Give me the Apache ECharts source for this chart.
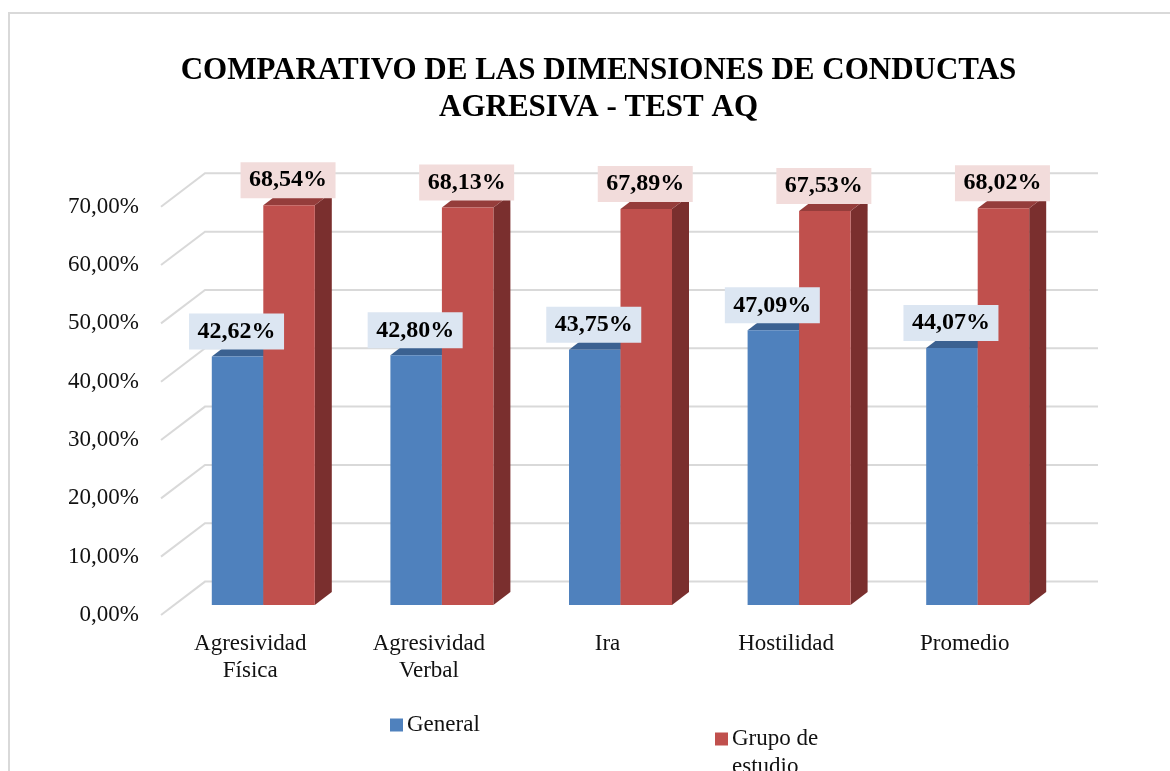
<!DOCTYPE html>
<html>
<head>
<meta charset="utf-8">
<style>html,body{margin:0;padding:0;background:#fff}#c{width:1170px;height:771px}</style>
<script src="https://cdn.jsdelivr.net/npm/echarts@6/dist/echarts.min.js"></script>
</head>
<body>
<div id="c"></div>
<script>
const titleText = 'COMPARATIVO DE LAS DIMENSIONES DE CONDUCTAS\nAGRESIVA - TEST AQ';
const categories = ['Agresividad Física', 'Agresividad Verbal', 'Ira', 'Hostilidad', 'Promedio'];
const general = [42.62, 42.80, 43.75, 47.09, 44.07];
const grupoEstudio = [68.54, 68.13, 67.89, 67.53, 68.02];
const yTicks = [0, 10, 20, 30, 40, 50, 60, 70];

const FONT = '"Liberation Serif","Times New Roman",serif';
const WALL = [44, -33.4];      // front of the floor to the back wall
const FLOOR = [13, -10];       // front of the floor to the front of the bars
const DEPTH = [17, -13];       // bar depth
const BAR_W = 51.5;
const fmt = v => v.toFixed(2).replace('.', ',') + '%';

function gridRender(params, api) {
  const cs = params.coordSys;
  const y = api.coord([0, api.value(0)])[1];
  const xb = cs.x + WALL[0], yb = y + WALL[1];
  return {
    type: 'polyline',
    shape: { points: [[cs.x, y], [xb, yb], [cs.x + cs.width + WALL[0], yb]] },
    style: { stroke: '#D9D9D9', lineWidth: 2, fill: null }
  };
}

function barRender(side, front, top, sideCol, labelBg) {
  return function (params, api) {
    const idx = api.value(0), v = api.value(1);
    const c = api.coord([idx, v]);
    const c0 = api.coord([idx, 0]);
    const cx = c[0] + FLOOR[0];
    const x0 = side < 0 ? cx - BAR_W : cx, x1 = x0 + BAR_W;
    const yt = c[1] + FLOOR[1], yb = c0[1] + FLOOR[1];
    const dx = DEPTH[0], dy = DEPTH[1];
    return {
      type: 'group',
      children: [
        { type: 'polygon', shape: { points: [[x1, yt], [x1 + dx, yt + dy], [x1 + dx, yb + dy], [x1, yb]] }, style: { fill: sideCol } },
        { type: 'polygon', shape: { points: [[x0, yt], [x0 + dx, yt + dy], [x1 + dx, yt + dy], [x1, yt]] }, style: { fill: top } },
        { type: 'rect', shape: { x: x0, y: yt, width: BAR_W, height: yb - yt }, style: { fill: front } },
        { type: 'text', z2: 100, x: x0 + BAR_W / 2 - 1, y: yt - 25,
          style: { text: fmt(v), fill: '#000', font: 'bold 24px ' + FONT, align: 'center', verticalAlign: 'middle',
                   backgroundColor: labelBg, padding: [6, 8.5, 6, 8.5] } }
      ]
    };
  };
}

const toData = arr => arr.map((v, i) => [i, v]);

const chart = echarts.init(document.getElementById('c'), null, { renderer: 'canvas' });
chart.setOption({
  animation: false,
  backgroundColor: '#fff',
  title: {
    text: titleText, left: 593.5, top: 47, textAlign: 'center',
    textStyle: { fontFamily: FONT, fontWeight: 'bold', fontSize: 31, lineHeight: 37, color: '#000' }
  },
  grid: { left: 161, top: 206.7, width: 893, height: 408.3 },
  xAxis: {
    type: 'category', data: categories,
    axisLine: { show: false }, axisTick: { show: false },
    axisLabel: { interval: 0, margin: 15, fontFamily: FONT, fontSize: 23, lineHeight: 27, color: '#111',
                 formatter: s => s.replace(' ', '\n') }
  },
  yAxis: {
    type: 'value', min: 0, max: 70, interval: 10,
    axisLine: { show: false }, axisTick: { show: false }, splitLine: { show: false },
    axisLabel: { margin: 22, fontFamily: FONT, fontSize: 23, color: '#111', formatter: v => fmt(v) }
  },
  legend: [
    { data: ['General'], left: 385, top: 706, icon: 'rect', itemWidth: 13, itemHeight: 13, itemGap: 0,
      textStyle: { fontFamily: FONT, fontSize: 23, lineHeight: 28, color: '#111', padding: [0, 0, 0, -1] } },
    { data: ['Grupo de estudio'], left: 710, top: 692, icon: 'rect', itemWidth: 13, itemHeight: 13, itemGap: 0,
      formatter: () => '\nGrupo de\nestudio',
      textStyle: { fontFamily: FONT, fontSize: 23, lineHeight: 28, color: '#111', padding: [0, 0, 0, -1] } }
  ],
  graphic: [{
    type: 'polyline', silent: true, z: -1,
    shape: { points: [[9, 771], [9, 13], [1170, 13]] },
    style: { stroke: '#D9D9D9', lineWidth: 2, fill: null }
  }],
  series: [
    { type: 'custom', name: 'grid', silent: true, coordinateSystem: 'cartesian2d', renderItem: gridRender,
      data: yTicks.map(v => [v]), encode: { y: 0 } },
    { type: 'custom', name: 'General', coordinateSystem: 'cartesian2d', itemStyle: { color: '#4F81BD' },
      renderItem: barRender(-1, '#4F81BD', '#3B6191', '#2F4D73', '#DCE6F2'),
      data: toData(general), encode: { x: 0, y: 1 } },
    { type: 'custom', name: 'Grupo de estudio', coordinateSystem: 'cartesian2d', itemStyle: { color: '#C0504D' },
      renderItem: barRender(1, '#C0504D', '#953D3B', '#7A2F2E', '#F2DCDB'),
      data: toData(grupoEstudio), encode: { x: 0, y: 1 } }
  ]
});
</script>
</body>
</html>
